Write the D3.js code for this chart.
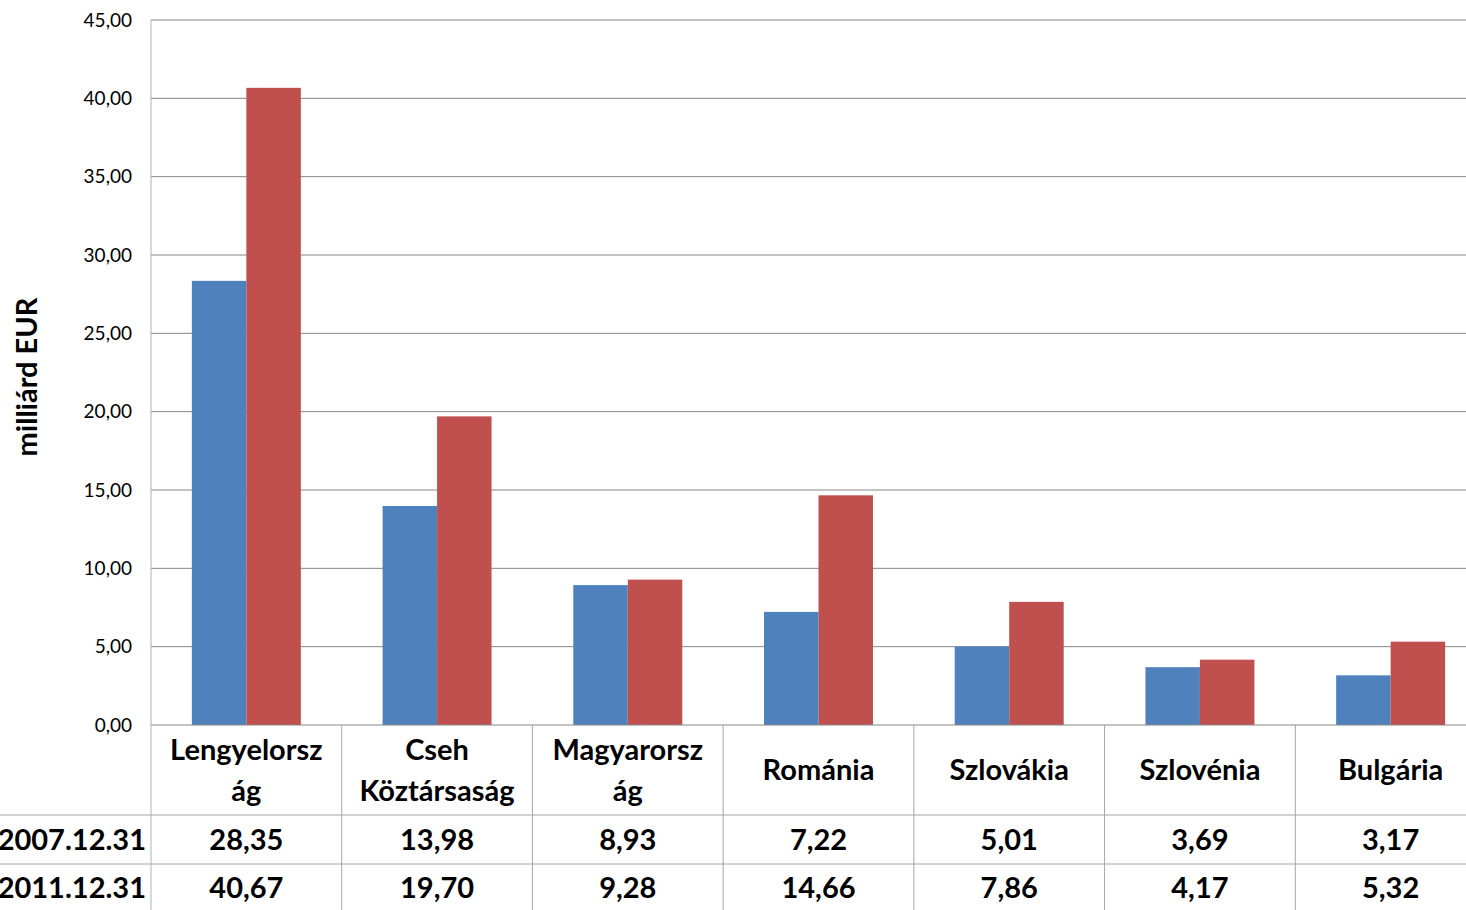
<!DOCTYPE html>
<html>
<head>
<meta charset="utf-8">
<script src="https://cdn.jsdelivr.net/npm/d3@7"></script>
<style>
  body { margin: 0; background: #fff; }
  svg { display: block; }
</style>
</head>
<body>
<svg id="chart" width="1466" height="910"></svg>
<script>
// countries, as the table header shows them (Excel wrapped the long names)
var categories = ['Lengyelország', 'Cseh Köztársaság', 'Magyarország', 'Románia', 'Szlovákia', 'Szlovénia', 'Bulgária'];
var headerLines = [['Lengyelorsz', 'ág'], ['Cseh', 'Köztársaság'], ['Magyarorsz', 'ág'], ['Románia'], ['Szlovákia'], ['Szlovénia'], ['Bulgária']];
var seriesNames = ['2007.12.31', '2011.12.31'];
var values2007 = [28.35, 13.98, 8.93, 7.22, 5.01, 3.69, 3.17];
var values2011 = [40.67, 19.70, 9.28, 14.66, 7.86, 4.17, 5.32];
var yTicks = [0, 5, 10, 15, 20, 25, 30, 35, 40, 45];
var colors = ['#4F81BD', '#C0504D'];

var series = [values2007, values2011];

var svg = d3.select('#chart');
var W = +svg.attr('width');
var H = +svg.attr('height');

var plotLeft = 151, plotTop = 20, plotBottom = 725;
// plot runs past the right edge of the picture, the last cell is cut off
var plotRight = 1486;

var fmt = function (v) { return d3.format('.2f')(v).replace('.', ','); };

var y = d3.scaleLinear().domain([0, 45]).range([plotBottom, plotTop]);
var x0 = d3.scaleBand().domain(categories).range([plotLeft, plotRight]);
var bw = x0.bandwidth();
// gap width 150%: each bar is bw/3.5 wide
var x1 = d3.scaleBand().domain(seriesNames).range([bw * 0.75 / 3.5, bw * 2.75 / 3.5]);

var font = 'Lato, "Open Sans", sans-serif';
var bigSize = 29;

// gridlines
svg.append('g').selectAll('line')
    .data(yTicks.filter(function (d) { return d > 0; }))
    .enter().append('line')
    .attr('x1', plotLeft).attr('x2', W)
    .attr('y1', function (d) { return y(d); })
    .attr('y2', function (d) { return y(d); })
    .style('stroke', '#868686')
    .style('stroke-width', 1);

// tick labels
svg.append('g').selectAll('text')
    .data(yTicks)
    .enter().append('text')
    .attr('x', 132)
    .attr('y', function (d) { return y(d); })
    .attr('dy', '0.35em')
    .attr('text-anchor', 'end')
    .attr('font-family', font)
    .attr('font-size', 19)
    .attr('fill', '#000')
    .text(fmt);

// bars
var groups = svg.append('g').selectAll('g')
    .data(categories)
    .enter().append('g')
    .attr('transform', function (d) { return 'translate(' + x0(d) + ',0)'; });

groups.selectAll('rect')
    .data(function (d, i) {
        return seriesNames.map(function (s, j) { return { s: s, v: series[j][i], j: j }; });
    })
    .enter().append('rect')
    .attr('x', function (d) { return x1(d.s); })
    .attr('width', x1.bandwidth())
    .attr('y', function (d) { return y(d.v); })
    .attr('height', function (d) { return plotBottom - y(d.v); })
    .style('fill', function (d) { return colors[d.j]; });

// data table
var tableStroke = '#a6a6a6';

// axis line / table top
svg.append('line')
    .attr('x1', plotLeft).attr('x2', W)
    .attr('y1', plotBottom).attr('y2', plotBottom)
    .style('stroke', '#868686');

svg.append('g').selectAll('line')
    .data([815, 864])
    .enter().append('line')
    .attr('x1', 0).attr('x2', W)
    .attr('y1', function (d) { return d; })
    .attr('y2', function (d) { return d; })
    .style('stroke', tableStroke);

// vertical axis line, running down through the table
svg.append('line')
    .attr('x1', plotLeft).attr('x2', plotLeft)
    .attr('y1', plotTop).attr('y2', H)
    .style('stroke', '#b2b2b2');

svg.append('g').selectAll('line')
    .data(categories.slice(1))
    .enter().append('line')
    .attr('x1', function (d) { return x0(d); })
    .attr('x2', function (d) { return x0(d); })
    .attr('y1', plotBottom).attr('y2', H)
    .style('stroke', tableStroke);

// header cells
var hdr = svg.append('g').selectAll('text')
    .data(categories)
    .enter().append('text')
    .attr('text-anchor', 'middle')
    .attr('font-family', font)
    .attr('font-weight', 'bold')
    .attr('font-size', bigSize)
    .attr('fill', '#000');

hdr.each(function (d, i) {
    var lines = headerLines[i];
    var cx = x0(d) + bw / 2;
    var cy = (plotBottom + 815) / 2;
    var lh = 41;
    var t = d3.select(this);
    lines.forEach(function (ln, k) {
        t.append('tspan')
            .attr('x', cx)
            .attr('y', cy + (k - (lines.length - 1) / 2) * lh)
            .attr('dy', '0.36em')
            .text(ln);
    });
});

// value rows
seriesNames.forEach(function (s, j) {
    var cy = j === 0 ? 840 : 888;
    svg.append('text')
        .attr('x', 146)
        .attr('y', cy)
        .attr('dy', '0.36em')
        .attr('text-anchor', 'end')
        .attr('font-family', font)
        .attr('font-weight', 'bold')
        .attr('font-size', bigSize)
        .text(s);
    svg.append('g').selectAll('text')
        .data(series[j])
        .enter().append('text')
        .attr('x', function (d, i) { return x0(categories[i]) + bw / 2; })
        .attr('y', cy)
        .attr('dy', '0.36em')
        .attr('text-anchor', 'middle')
        .attr('font-family', font)
        .attr('font-weight', 'bold')
        .attr('font-size', bigSize)
        .text(fmt);
});

// y axis title
svg.append('text')
    .attr('transform', 'translate(27,377) rotate(-90)')
    .attr('dy', '0.36em')
    .attr('text-anchor', 'middle')
    .attr('font-family', font)
    .attr('font-weight', 'bold')
    .attr('font-size', bigSize)
    .text('milliárd EUR');
</script>
</body>
</html>
